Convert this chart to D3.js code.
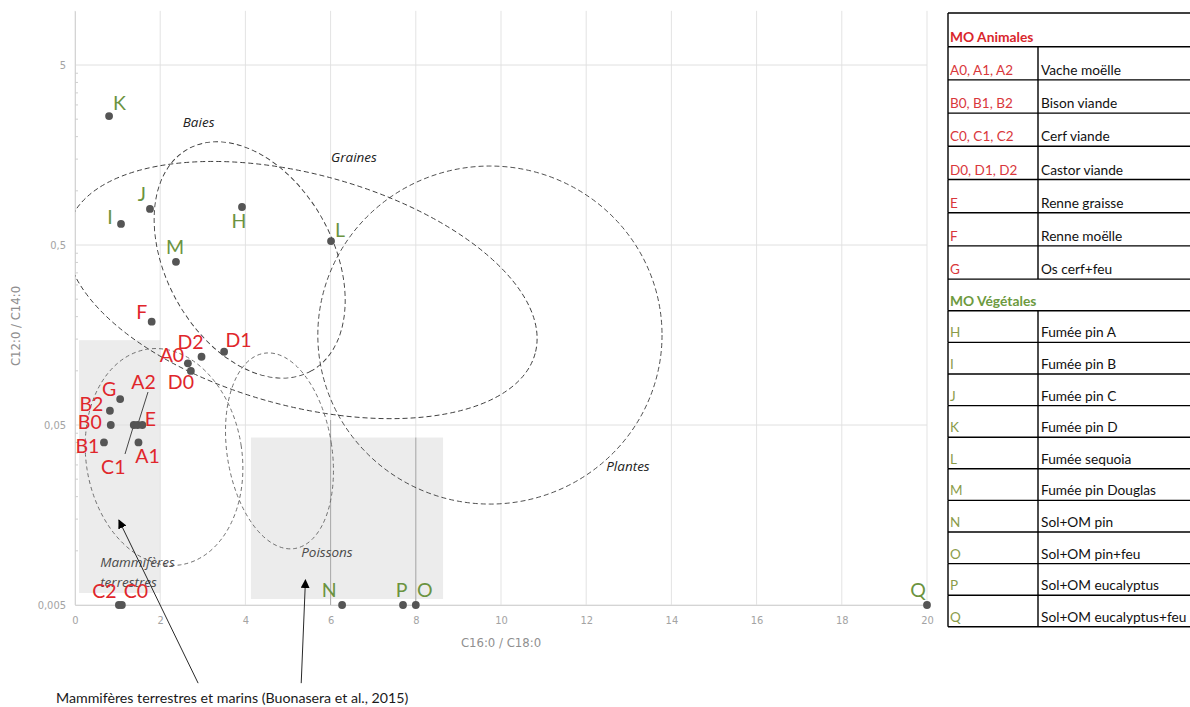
<!DOCTYPE html>
<html>
<head>
<meta charset="utf-8">
<script src="https://cdn.jsdelivr.net/npm/d3@7"></script>
<style>
  html, body { margin: 0; padding: 0; background: #fff; }
  svg { display: block; }
</style>
</head>
<body>
<svg id="chart" width="1190" height="707"></svg>
<script>
// ---------------- DATA ----------------
const pointNames  = ["K","I","J","H","L","M","F","D1","D2","A0","D0","G","B2","B0","C1","A2","E","B1","A1","C2","C0","N","P","O","Q"];
const pointX      = [0.80,1.08,1.76,3.92,6.01,2.37,1.80,3.50,2.97,2.65,2.72,1.06,0.82,0.84,1.38,1.47,1.58,0.68,1.49,1.03,1.10,6.27,7.70,8.00,20.0];
const pointY      = [2.60,0.655,0.793,0.813,0.526,0.403,0.1875,0.1276,0.1197,0.110,0.0998,0.0697,0.060,0.050,0.050,0.050,0.050,0.040,0.040,0.005,0.005,0.005,0.005,0.005,0.005];
const pointGroup  = ["V","V","V","V","V","V","A","A","A","A","A","A","A","A","A","A","A","A","A","A","A","V","V","V","V"];

const xTickValues = [0,2,4,6,8,10,12,14,16,18,20];
const yTickValues = [0.005,0.05,0.5,5];
const yTickLabels = ["0,005","0,05","0,5","5"];
const xTitle = "C16:0 / C18:0";
const yTitle = "C12:0 / C14:0";

// reference zones (ellipses): centre (x, y value), half-axes in x units / y decades, tilt
const zoneNames   = ["Graines","Baies","Plantes","Mammifères","Poissons"];
const zoneCX      = [5.32, 4.10, 9.74, 2.09, 4.80];
const zoneCY      = [0.281, 0.413, 0.158, 0.0332, 0.0359];
const zoneRX      = [5.68, 2.98, 4.04, 1.83, 1.23];
const zoneRYdec   = [0.644, 0.464, 0.939, 0.606, 0.549];
const zoneAngle   = [15.2, 61, 0, -8.8, -8.9];

// grey boxes (Buonasera et al., 2015)
const boxX0 = [0.094, 4.13];
const boxX1 = [2.00, 8.64];
const boxY0 = [0.00583, 0.0054];
const boxY1 = [0.148, 0.0426];

// zone captions
const captionText = ["Baies","Graines","Plantes","Poissons","Mammifères","terrestres"];
const captionX    = [2.53, 6.01, 12.47, 5.31, 0.59, 0.59];
const captionY    = [2.26, 1.445, 0.0277, 0.00925, 0.0081, 0.0063];

// arrows from the bottom note to the boxes
const arrowX0 = [2.89, 5.31];
const arrowY0 = [0.00184, 0.00184];
const arrowX1 = [1.03, 5.41];
const arrowY1 = [0.0148, 0.00689];
const noteText = "Mammifères terrestres et marins (Buonasera et al., 2015)";

// vertical guide segments
const guideX  = [6, 8];
const guideY0 = [0.005, 0.005];
const guideY1 = [0.0533, 0.0426];

// legend table
const legendAnimalCodes = ["A0, A1, A2","B0, B1, B2","C0, C1, C2","D0, D1, D2","E","F","G"];
const legendAnimalNames = ["Vache moëlle","Bison viande","Cerf viande","Castor viande","Renne graisse","Renne moëlle","Os cerf+feu"];
const legendPlantCodes  = ["H","I","J","K","L","M","N","O","P","Q"];
const legendPlantNames  = ["Fumée pin A","Fumée pin B","Fumée pin C","Fumée pin D","Fumée sequoia","Fumée pin Douglas","Sol+OM pin","Sol+OM pin+feu","Sol+OM eucalyptus","Sol+OM eucalyptus+feu"];
const legendHeaders = ["MO Animales","MO Végétales"];

// ---------------- LAYOUT / STYLE ----------------
const labelOffsets = {
  K:[10.5,-6], I:[-11,0], J:[-8,-8], H:[-3,21], L:[9,-4], M:[-1,-8], F:[-10,-3],
  D2:[-11,-8], D1:[14.5,-5], A0:[-16,-1], D0:[-10,18], A2:[6,-36], G:[-11,-3],
  B2:[-18.5,0], B0:[-21,4], E:[8,1], B1:[-16.5,11], A1:[9,21], C1:[-20.5,49],
  C2:[-14.5,-7], C0:[14,-7], N:[-13,-8], P:[-1.5,-8], O:[9,-8], Q:[-9,-8]
};
const leaders = { A2:[148,392], C1:[125,454] };
const RED = "#e0262b", GREEN = "#6b9340", LEG_GREEN = "#8a9c4a";
const narrow = "'Liberation Sans Narrow','DejaVu Sans Condensed',sans-serif";
const calib = "Lato,'Open Sans',sans-serif";

const svg = d3.select("#chart");
const pL = 75, pR = 927, pB = 605, pxPerDecade = 180;
const x = d3.scaleLinear().domain([0,20]).range([pL,pR]);
const y = d3.scaleLog().domain([0.005,10]).range([pB, pB - pxPerDecade*Math.log10(10/0.005)]);
const pT = y(10);

const defs = svg.append("defs");
defs.append("clipPath").attr("id","plotclip").append("rect")
  .attr("x",pL).attr("y",pT).attr("width",pR-pL+1).attr("height",pB-pT);
defs.append("marker").attr("id","arrowhead").attr("viewBox","0 0 10 10")
  .attr("refX",9).attr("refY",5).attr("markerWidth",9).attr("markerHeight",9)
  .attr("markerUnits","userSpaceOnUse").attr("orient","auto")
  .append("path").attr("d","M0,0 L10,5 L0,10 z").attr("fill","#000");

// grey boxes
svg.append("g").selectAll("rect").data(d3.range(boxX0.length)).join("rect")
  .attr("x", i => x(boxX0[i])).attr("y", i => y(boxY1[i]))
  .attr("width", i => x(boxX1[i]) - x(boxX0[i]))
  .attr("height", i => y(boxY0[i]) - y(boxY1[i]))
  .attr("fill","#ececec");

// gridlines
const grid = svg.append("g");
grid.selectAll("line.v").data(xTickValues).join("line")
  .attr("x1", d => x(d)).attr("x2", d => x(d)).attr("y1", pT).attr("y2", pB)
  .attr("stroke","#e3e3e3").attr("stroke-width",1);
grid.selectAll("line.h").data(yTickValues).join("line")
  .attr("x1", pL).attr("x2", pR).attr("y1", d => y(d)).attr("y2", d => y(d))
  .attr("stroke","#e0e0e0").attr("stroke-width",1);

// guide segments
svg.append("g").selectAll("line").data(d3.range(guideX.length)).join("line")
  .attr("x1", i => x(guideX[i])).attr("x2", i => x(guideX[i]))
  .attr("y1", i => y(guideY0[i])).attr("y2", i => y(guideY1[i]))
  .attr("stroke","#a9a9a9").attr("stroke-width",1);

// axes
const yAxis = d3.axisLeft(y).tickValues(yTickValues).tickFormat((d,i) => yTickLabels[i]).tickSize(0).tickPadding(9);
const gy = svg.append("g").attr("transform",`translate(${pL},0)`).call(yAxis);
gy.select(".domain").attr("stroke","#d4d4d4");
gy.selectAll("text").attr("fill","#a3a3a3").style("font-family",narrow).style("font-size","11px");
const minor = [];
[0.005,0.05,0.5].forEach(d => { for (let k=2;k<=9;k++) minor.push(d*k); });
svg.append("g").selectAll("line").data(minor).join("line")
  .attr("x1",pL).attr("x2",pL+3).attr("y1",d=>y(d)).attr("y2",d=>y(d))
  .attr("stroke","#cfcfcf");

const xAxis = d3.axisBottom(x).tickValues(xTickValues).tickFormat(d3.format("d")).tickSize(0).tickPadding(11);
const gx = svg.append("g").attr("transform",`translate(0,${pB})`).call(xAxis);
gx.select(".domain").attr("stroke","#d4d4d4");
gx.selectAll("text").attr("fill","#a3a3a3").style("font-family",narrow).style("font-size","11px");

svg.append("text").attr("x",501).attr("y",647).attr("text-anchor","middle")
  .attr("fill","#8f8f8f").style("font-family",narrow).style("font-size","13px").text(xTitle);
svg.append("text").attr("transform","translate(20,326) rotate(-90)").attr("text-anchor","middle")
  .attr("fill","#8f8f8f").style("font-family",narrow).style("font-size","13px").text(yTitle);

// ellipses
const eg = svg.append("g").attr("clip-path","url(#plotclip)");
eg.selectAll("ellipse").data(d3.range(zoneNames.length)).join("ellipse")
  .attr("transform", i => `translate(${x(zoneCX[i])},${y(zoneCY[i])}) rotate(${zoneAngle[i]})`)
  .attr("rx", i => x(zoneRX[i]) - x(0))
  .attr("ry", i => zoneRYdec[i]*pxPerDecade)
  .attr("fill","none")
  .attr("stroke", i => i < 3 ? "#3c3c3c" : "#6a6a6a")
  .attr("stroke-width", 0.9)
  .attr("stroke-dasharray", i => i < 3 ? "5,3" : "4,3");

// captions
svg.append("g").selectAll("text").data(d3.range(captionText.length)).join("text")
  .attr("x", i => x(captionX[i])).attr("y", i => y(captionY[i]))
  .attr("fill", i => i >= 3 ? "#4a4a4a" : "#222")
  .style("font-family","'Open Sans',sans-serif").style("font-style","italic")
  .style("font-size","13.5px")
  .text(i => captionText[i]);

// leaders
const idx = n => pointNames.indexOf(n);
svg.append("g").selectAll("line").data(Object.keys(leaders)).join("line")
  .attr("x1", n => leaders[n][0]).attr("y1", n => leaders[n][1])
  .attr("x2", n => x(pointX[idx(n)])).attr("y2", n => y(pointY[idx(n)]))
  .attr("stroke","#333").attr("stroke-width",0.9);

// points
svg.append("g").selectAll("circle").data(d3.range(pointNames.length)).join("circle")
  .attr("cx", i => x(pointX[i])).attr("cy", i => y(pointY[i])).attr("r",3.9)
  .attr("fill","#555");

// point labels
svg.append("g").selectAll("text").data(d3.range(pointNames.length)).join("text")
  .attr("x", i => x(pointX[i]) + labelOffsets[pointNames[i]][0])
  .attr("y", i => y(pointY[i]) + labelOffsets[pointNames[i]][1])
  .attr("text-anchor","middle")
  .attr("fill", i => pointGroup[i] === "A" ? RED : GREEN)
  .style("font-family",calib).style("font-size","19.5px")
  .text(i => pointNames[i]);

// arrows + note
svg.append("g").selectAll("line").data(d3.range(arrowX0.length)).join("line")
  .attr("x1", i => x(arrowX0[i])).attr("y1", i => y(arrowY0[i]))
  .attr("x2", i => x(arrowX1[i])).attr("y2", i => y(arrowY1[i]))
  .attr("stroke","#111").attr("stroke-width",0.9).attr("marker-end","url(#arrowhead)");
svg.append("text").attr("x",56).attr("y",703).attr("fill","#1a1a1a")
  .style("font-family",calib).style("font-size","14.2px").text(noteText);

// ---------------- LEGEND TABLE ----------------
const tL = 948, tC = 1038, tR = 1190;
const lg = svg.append("g");
const rows = [];
let yy = 13;
rows.push({type:"head", text:legendHeaders[0], color:"#d9262c", y0:yy, y1:yy+33.7}); yy += 33.7;
legendAnimalCodes.forEach((c,i) => { rows.push({type:"row", code:c, name:legendAnimalNames[i], color:"#d9373b", y0:yy, y1:yy+33.2}); yy += 33.2; });
rows.push({type:"head", text:legendHeaders[1], color:"#6d9a3e", y0:yy, y1:yy+31.7}); yy += 31.7;
legendPlantCodes.forEach((c,i) => { rows.push({type:"row", code:c, name:legendPlantNames[i], color:LEG_GREEN, y0:yy, y1:yy+31.6}); yy += 31.6; });

const lineStyle = s => s.attr("stroke","#000").attr("stroke-width",1.4);
lg.append("line").attr("x1",tL).attr("x2",tR).attr("y1",13).attr("y2",13).call(lineStyle);
rows.forEach(r => {
  lg.append("line").attr("x1",tL).attr("x2",tR).attr("y1",r.y1).attr("y2",r.y1).call(lineStyle);
  lg.append("line").attr("x1",tL).attr("x2",tL).attr("y1",r.y0).attr("y2",r.y1).call(lineStyle);
  if (r.type === "head") {
    lg.append("text").attr("x",tL+2).attr("y",r.y1-5).attr("fill",r.color)
      .style("font-family",calib).style("font-weight","bold").style("font-size","13.8px").text(r.text);
  } else {
    lg.append("line").attr("x1",tC).attr("x2",tC).attr("y1",r.y0).attr("y2",r.y1).call(lineStyle);
    lg.append("text").attr("x",tL+2).attr("y",r.y1-5).attr("fill",r.color)
      .style("font-family",calib).style("font-size","13.5px").text(r.code);
    lg.append("text").attr("x",tC+3).attr("y",r.y1-5).attr("fill","#111")
      .style("font-family",calib).style("font-size","13.7px").text(r.name);
  }
});
</script>
</body>
</html>
